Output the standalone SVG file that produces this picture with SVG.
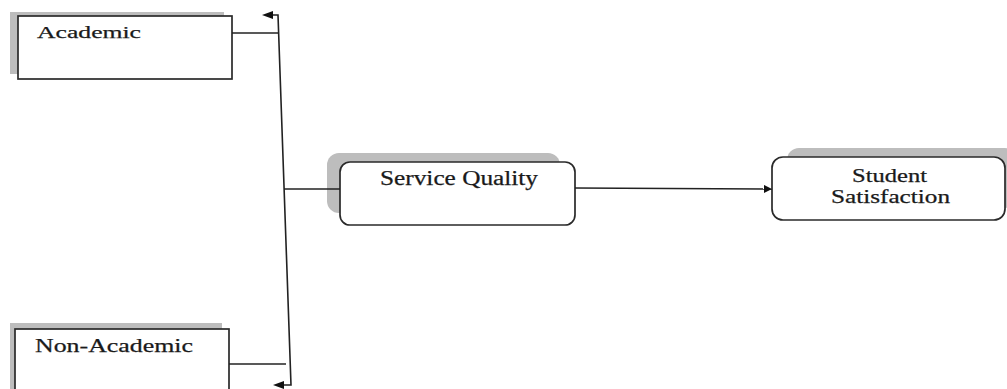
<svg xmlns="http://www.w3.org/2000/svg" width="1007" height="389" viewBox="0 0 1007 389">
<style>
.shadow{fill:#bdbdbd;stroke:none}
.box{fill:#fff;stroke:#2a2a2a;stroke-width:1.7}
.lbl{font-family:"Liberation Serif","Times New Roman",serif;fill:#1a1a1a;stroke:#1a1a1a;stroke-width:0.25}
.conn{fill:none;stroke:#222;stroke-width:1.6}
</style>
<defs>
<marker id="ah" viewBox="0 0 10 10" refX="10" refY="5" markerWidth="10" markerHeight="8" markerUnits="userSpaceOnUse" orient="auto">
<path d="M0,0 L10,5 L0,10 z" fill="#111"/>
</marker>
</defs>
<rect width="1007" height="389" fill="#fff"/>
<g id="academic">
<rect class="shadow" x="10" y="12" width="214" height="62"/>
<rect class="box" x="18" y="16" width="214" height="63"/>
<text class="lbl" x="37" y="38" font-size="17.5" textLength="104" lengthAdjust="spacingAndGlyphs">Academic</text>
</g>
<g id="non-academic">
<rect class="shadow" x="10" y="323" width="212" height="70"/>
<rect class="box" x="15" y="329" width="214" height="70"/>
<text class="lbl" x="35" y="352" font-size="19" textLength="158" lengthAdjust="spacingAndGlyphs">Non-Academic</text>
</g>
<g id="service-quality">
<rect class="shadow" x="327" y="153" width="233" height="60" rx="12"/>
<rect class="box" x="340" y="162" width="235" height="63" rx="10"/>
<text class="lbl" x="380" y="185" font-size="20" textLength="158" lengthAdjust="spacingAndGlyphs">Service Quality</text>
</g>
<g id="student-satisfaction">
<rect class="shadow" x="787" y="148" width="230" height="60" rx="12"/>
<rect class="box" x="772" y="157" width="233" height="63" rx="11"/>
<text class="lbl" x="852" y="182" font-size="19" textLength="75" lengthAdjust="spacingAndGlyphs">Student</text>
<text class="lbl" x="831" y="203" font-size="19" textLength="119" lengthAdjust="spacingAndGlyphs">Satisfaction</text>
</g>
<g id="connectors">
<polyline class="conn" points="232,33 278,33"/>
<polyline class="conn" points="229,364 286,364"/>
<polyline class="conn" points="268,15 278,15 291,385 278,385"/>
<path d="M262,15 L273,11 L273,19 z" fill="#111"/>
<path d="M273,385 L284,381 L284,389 z" fill="#111"/>
<polyline class="conn" points="284,189 340,189"/>
<line class="conn" x1="575" y1="188" x2="772" y2="189" marker-end="url(#ah)"/>
</g>
</svg>
